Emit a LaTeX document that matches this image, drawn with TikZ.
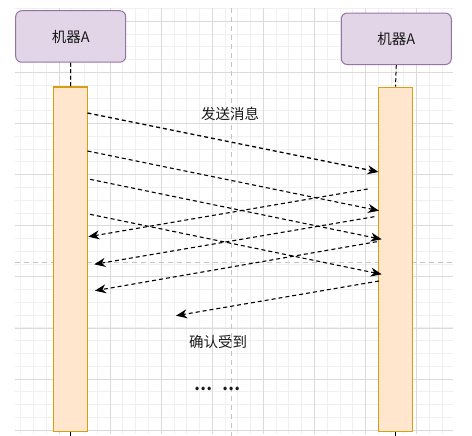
\documentclass[tikz,border=0pt]{standalone}
\usepackage{fontspec}
\setmainfont{Noto Sans CJK SC}
\usetikzlibrary{arrows.meta}
\definecolor{gridminor}{HTML}{F0F0F0}
\definecolor{gridmajor}{HTML}{DADADA}
\definecolor{pagebreak}{HTML}{C4C4C4}
\definecolor{boxfill}{HTML}{E1D5E7}
\definecolor{boxline}{HTML}{9673A6}
\definecolor{barfill}{HTML}{FFE6CC}
\definecolor{barline}{HTML}{D69E12}
\definecolor{txt}{HTML}{1A1A1A}
\begin{document}
\begin{tikzpicture}[x=1pt,y=-1pt,
  machine/.style={draw=boxline, fill=boxfill, rounded corners=6pt, line width=1pt,
    minimum width=110pt, minimum height=51.5pt, inner sep=0pt,
    font=\fontsize{14.5}{16}\selectfont, text=txt},
  bar/.style={draw=barline, fill=barfill, line width=1.6pt, minimum width=34pt,
    minimum height=344pt, inner sep=0pt},
  msg/.style={dash pattern=on 4pt off 3pt, line width=1.1pt,
    -{Stealth[length=11pt,width=9pt,inset=3.5pt]}},
  life/.style={dash pattern=on 4pt off 2.5pt, line width=1pt},
  lbl/.style={font=\fontsize{14.5}{16}\selectfont, text=txt, inner sep=0pt},
  minorline/.style={draw=gridminor, line width=0.8pt},
  majorline/.style={draw=gridmajor, line width=0.8pt},
  breakline/.style={draw=pagebreak, line width=1pt, dash pattern=on 5pt off 4pt}]
\useasboundingbox (0,0) rectangle (472,436);
% grid
\foreach \i in {0,...,33} {
  \draw[minorline] ({20.6+\i*12.775},8.5) -- ({20.6+\i*12.775},434);
  \draw[minorline] (15,{8.5+\i*12.775}) -- (453,{8.5+\i*12.775});
}
\foreach \k in {0,...,7} {
  \draw[majorline] ({58.9+\k*51.1},8.5) -- ({58.9+\k*51.1},434);
}
\foreach \k in {0,...,8} {
  \draw[majorline] (15,{21.3+\k*51.1}) -- (453,{21.3+\k*51.1});
}
\draw[breakline] (231,8.5) -- (231,436);
\draw[breakline] (15,262) -- (453,262);
% participants
\node[machine] (L) at (70.7,36.5) {机器A};
\node[machine] (R) at (396.3,38.8) {机器A};
\node[bar] (Lb) at (70.6,259.3) {};
\node[bar] (Rb) at (395.5,259.5) {};
\coordinate (Lend) at (70.6,436);
\coordinate (Rend) at (395.5,436);
\draw[life] (L.south) -- (Lb.north);
\draw[life] (R.south) -- (Rb.north);
\draw[life] (Lb.south) -- (Lend);
\draw[life] (Rb.south) -- (Rend);
% message endpoints
\coordinate (s1) at (87.5,113);  \coordinate (e1) at (378.5,172);
\coordinate (s2) at (87.5,151);  \coordinate (e2) at (379,210.7);
\coordinate (s3) at (90,179.3);  \coordinate (e3) at (381.7,239.3);
\coordinate (s4) at (90,214.3);  \coordinate (e4) at (381.7,274.3);
\coordinate (ra) at (367.7,189); \coordinate (la) at (88.3,236.7);
\coordinate (rb) at (374.3,216.7); \coordinate (lb) at (94.3,264.3);
\coordinate (rc) at (376.7,241.7); \coordinate (lc) at (95,290.7);
\coordinate (rd) at (379,281);   \coordinate (ld) at (176,315.7);
\draw[msg, line width=1.3pt] (s1) -- (e1);
\draw[msg] (s2) -- (e2);
\draw[msg] (s3) -- (e3);
\draw[msg] (s4) -- (e4);
\draw[msg] (ra) -- (la);
\draw[msg] (rb) -- (lb);
\draw[msg] (rc) -- (lc);
\draw[msg] (rd) -- (ld);
% labels
\node[lbl] (send) at (230,114) {发送消息};
\node[lbl] (ack) at (218,342) {确认受到};
\node[lbl, font=\bfseries\fontsize{16}{18}\selectfont] (more) at (217,388.5) {…\hspace{10pt}…};
\end{tikzpicture}
\end{document}
